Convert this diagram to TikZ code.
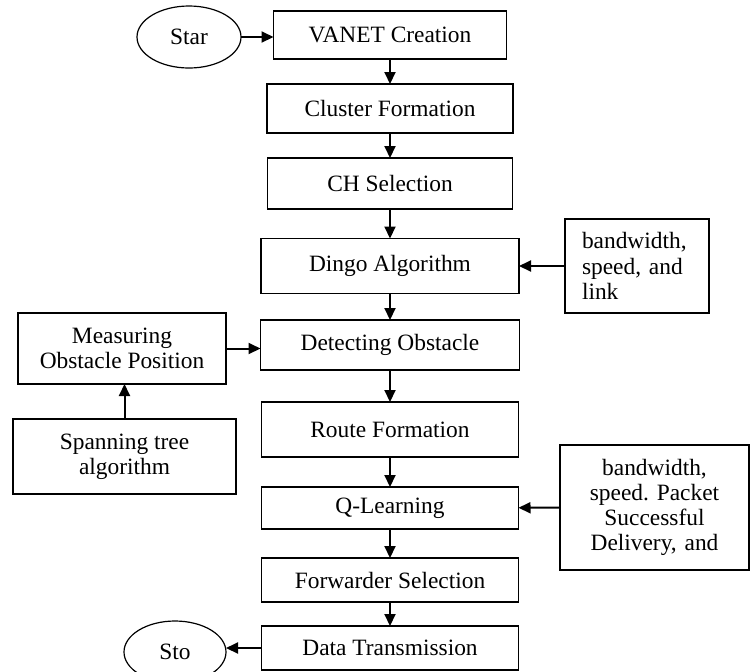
\documentclass[tikz,border=0pt]{standalone}
\usepackage{fontspec}
\setmainfont{Liberation Serif}
\usepackage{tikz}
\usetikzlibrary{arrows.meta}
\usetikzlibrary{shapes.geometric}
\frenchspacing
\newcommand{\boxfont}{\fontsize{11.7}{12.6}\selectfont}
\tikzstyle{block}=[draw, line width=0.6pt, inner sep=0, outer sep=0, font=\boxfont]
\tikzstyle{stage}=[block, rectangle, minimum height=24pt]
\tikzstyle{terminal}=[block, ellipse, minimum width=52pt, minimum height=31pt]
\tikzstyle{sidebox}=[block, rectangle, align=center]
\tikzstyle{flow}=[-{Triangle[length=6pt, width=5.5pt]}, line width=1pt]
\tikzstyle{flowchart}=[x=0.5pt, y=-0.5pt,
                       % Page size of the reference, in pixels.
                       execute at begin picture={\useasboundingbox (0, 0) rectangle (750, 671); \clip (0, 0) rectangle (750, 671);}]

\begin{document}
\begin{tikzpicture}[flowchart]
        \node[terminal] (start) at (189, 37) {Star};
        \node[stage, minimum width=116.5pt] (vanet) at (390, 35) {VANET Creation};
        \node[stage, minimum width=123pt, minimum height=24.5pt] (cluster) at (390, 108.5) {Cluster Formation};
        \node[stage, minimum width=122.5pt, minimum height=25.5pt] (chsel) at (390, 183.5) {CH Selection};
        \node[stage, minimum width=129pt, minimum height=27.5pt] (dingo) at (390, 266) {Dingo Algorithm};
        \node[stage, minimum width=129.5pt, minimum height=25pt] (detect) at (390, 345) {Detecting Obstacle};
        \node[stage, minimum width=128.5pt, minimum height=27.5pt] (route) at (390, 429.5) {Route Formation};
        \node[stage, minimum width=128.5pt, minimum height=21pt] (qlearn) at (390, 508) {Q-Learning};
        \node[stage, minimum width=128.5pt, minimum height=22pt] (forward) at (390, 580) {Forwarder Selection};
        \node[stage, minimum width=128.5pt, minimum height=22pt] (datatx) at (390, 648) {Data Transmission};
        \node[terminal, minimum width=51pt] (stop) at (175, 652) {Sto};
        \node[block, align=left, text width=55pt, inner xsep=8.5pt, minimum height=47pt] (dingoin) at (637, 266) {bandwidth,\\speed, and\\link};
        \node[sidebox, text width=94.5pt, minimum height=62.5pt] (qin) at (654.5, 507.5) {bandwidth,\\speed. Packet\\Successful\\Delivery, and};
        \node[sidebox, minimum width=104pt, minimum height=35.5pt] (measure) at (122, 348.5) {Measuring\\Obstacle Position};
        \node[sidebox, minimum width=111.5pt, minimum height=37.5pt] (span) at (124.5, 456.5) {Spanning tree\\algorithm};
        \draw[flow] (start.east) -- (vanet.west |- start.east);
        \draw[flow] (vanet) -- (cluster);
        \draw[flow] (cluster) -- (chsel);
        \draw[flow] (chsel) -- (dingo);
        \draw[flow] (dingo) -- (detect);
        \draw[flow] (detect) -- (route);
        \draw[flow] (route) -- (qlearn);
        \draw[flow] (qlearn) -- (forward);
        \draw[flow] (forward) -- (datatx);
        \draw[flow] (dingoin) -- (dingo);
        \draw[flow] (qin) -- (qlearn);
        \draw[flow] (measure.east) -- (detect.west |- measure.east);
        \draw[flow] (span.north) -- (span.north |- measure.south);
        \draw[flow] (datatx.west) -- (datatx.west -| stop.east);
    \end{tikzpicture}
\end{document}
